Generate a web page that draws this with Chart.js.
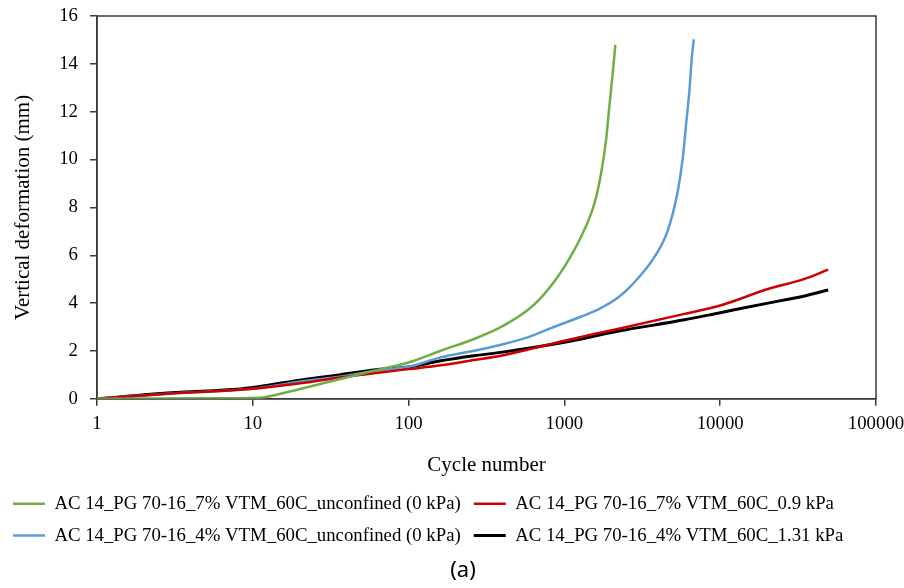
<!DOCTYPE html>
<html>
<head>
<meta charset="utf-8">
<title>Vertical deformation vs cycle number</title>
<script src="https://cdn.jsdelivr.net/npm/chart.js@4.4.1/dist/chart.umd.min.js"></script>
<style>
    html, body { margin: 0; padding: 0; background: #fff; }
    #wrap { position: relative; width: 904px; height: 588px; }
    #caption {
        position: absolute; left: 433px; top: 554px; width: 60px;
        text-align: center; font: 22px "Noto Sans"; line-height: 28px; color: #000;
    }
</style>
</head>
<body>
<div id="wrap">
    <canvas id="deformChart" width="904" height="588"></canvas>
    <div id="caption">(a)</div>
</div>
<script>
// Données (nombre de cycles / déformation en mm)
const greenCycles = [1, 2, 5, 11, 16, 22, 36, 66, 100, 161, 263, 371, 476, 590, 706, 850, 997, 1277, 1555, 1718, 1850, 1942, 2042, 2123];
const greenDef = [0, 0.01, 0.02, 0.04, 0.25, 0.47, 0.82, 1.24, 1.52, 2.01, 2.5, 2.92, 3.32, 3.74, 4.22, 4.85, 5.5, 6.76, 8.15, 9.41, 10.8, 12.2, 13.6, 14.79];

const redCycles = [1, 3, 10, 22, 36, 66, 100, 161, 263, 391, 1000, 2198, 5893, 10000, 20270, 34800, 49300];
const redDef = [0, 0.22, 0.42, 0.68, 0.89, 1.1, 1.24, 1.40, 1.62, 1.80, 2.43, 2.92, 3.55, 3.9, 4.59, 5.01, 5.40];

const blueCycles = [1, 3, 10, 22, 36, 66, 100, 161, 263, 391, 600, 780, 1000, 1300, 1700, 2200, 2677, 3778, 4610, 5350, 5760, 6045, 6350, 6580, 6770];
const blueDef = [0, 0.22, 0.42, 0.75, 0.92, 1.2, 1.34, 1.73, 2.01, 2.26, 2.6, 2.9, 3.17, 3.45, 3.78, 4.22, 4.72, 5.92, 7.04, 8.71, 10.1, 11.5, 12.9, 14.3, 15.02];

const blackCycles = [1, 3, 8.3, 10, 22, 36, 66, 100, 161, 263, 391, 1000, 2198, 5893, 10000, 20270, 34800, 49300];
const blackDef = [0, 0.25, 0.41, 0.47, 0.82, 1.0, 1.24, 1.33, 1.59, 1.80, 1.94, 2.36, 2.82, 3.3, 3.6, 4.0, 4.3, 4.55];

const seriesLabels = [
    'AC 14_PG 70-16_7% VTM_60C_unconfined (0 kPa)',
    'AC 14_PG 70-16_7% VTM_60C_0.9 kPa',
    'AC 14_PG 70-16_4% VTM_60C_unconfined (0 kPa)',
    'AC 14_PG 70-16_4% VTM_60C_1.31 kPa'
];
const cycleTicks = [1, 10, 100, 1000, 10000, 100000];
const serif = '"Liberation Serif", "Times New Roman", serif';
const axisColor = '#3a3a3a';

function toPoints(xs, ys) {
    return xs.map((x, i) => ({ x: x, y: ys[i] }));
}

function makeSeries(label, xs, ys, color, width) {
    return {
        label: label,
        data: toPoints(xs, ys),
        borderColor: color,
        backgroundColor: color,
        borderWidth: width,
        pointRadius: 0,
        cubicInterpolationMode: 'monotone',
        fill: false
    };
}

// Cadre complet autour de la zone du graphique
const frame = {
    id: 'frame',
    beforeDatasetsDraw(chart) {
        const a = chart.chartArea;
        const ctx = chart.ctx;
        ctx.save();
        ctx.strokeStyle = axisColor;
        ctx.lineWidth = 1.5;
        ctx.strokeRect(a.left, a.top, a.right - a.left, a.bottom - a.top);
        ctx.restore();
    }
};

const ctx = document.getElementById('deformChart').getContext('2d');
new Chart(ctx, {
    type: 'line',
    data: {
        datasets: [
            makeSeries(seriesLabels[0], greenCycles, greenDef, '#70ad47', 2.5),
            makeSeries(seriesLabels[1], redCycles, redDef, '#cc0000', 2.5),
            makeSeries(seriesLabels[2], blueCycles, blueDef, '#5b9bd5', 2.5),
            makeSeries(seriesLabels[3], blackCycles, blackDef, '#000000', 3)
        ]
    },
    options: {
        responsive: false,
        animation: false,
        layout: { padding: { top: 16, right: 0, bottom: 33, left: 0 } },
        plugins: {
            tooltip: { enabled: false },
            legend: {
                position: 'bottom',
                align: 'start',
                labels: {
                    usePointStyle: true,
                    pointStyle: 'line',
                    pointStyleWidth: 32,
                    boxWidth: 32,
                    padding: 13,
                    color: '#000',
                    font: { family: serif, size: 18.8 }
                }
            }
        },
        scales: {
            x: {
                type: 'logarithmic',
                min: 1,
                max: 100000,
                afterBuildTicks: axis => {
                    axis.ticks = cycleTicks.map(v => ({ value: v }));
                },
                afterFit: axis => {
                    axis.height = 82.6;
                    axis.paddingLeft = 0;
                    axis.paddingRight = 28;
                },
                ticks: {
                    color: '#000',
                    padding: 7,
                    maxRotation: 0,
                    font: { family: serif, size: 18.8 },
                    callback: value => String(value)
                },
                grid: { drawOnChartArea: false, tickLength: 7, color: axisColor, lineWidth: 1.5 },
                border: { color: axisColor, width: 1.5 },
                title: {
                    display: true,
                    text: 'Cycle number',
                    color: '#000',
                    padding: { top: 0, bottom: 3 },
                    font: { family: serif, size: 21 }
                }
            },
            y: {
                min: 0,
                max: 16,
                afterFit: axis => {
                    axis.width = 97;
                    axis.paddingTop = 0;
                    axis.paddingBottom = 0;
                },
                ticks: {
                    stepSize: 2,
                    color: '#000',
                    padding: 12,
                    font: { family: serif, size: 18.8 }
                },
                grid: { drawOnChartArea: false, tickLength: 7, color: axisColor, lineWidth: 1.5 },
                border: { color: axisColor, width: 1.5 },
                title: {
                    display: true,
                    text: 'Vertical deformation (mm)',
                    color: '#000',
                    padding: { top: 11, bottom: 0 },
                    font: { family: serif, size: 21 }
                }
            }
        }
    },
    plugins: [frame]
});
</script>
</body>
</html>
